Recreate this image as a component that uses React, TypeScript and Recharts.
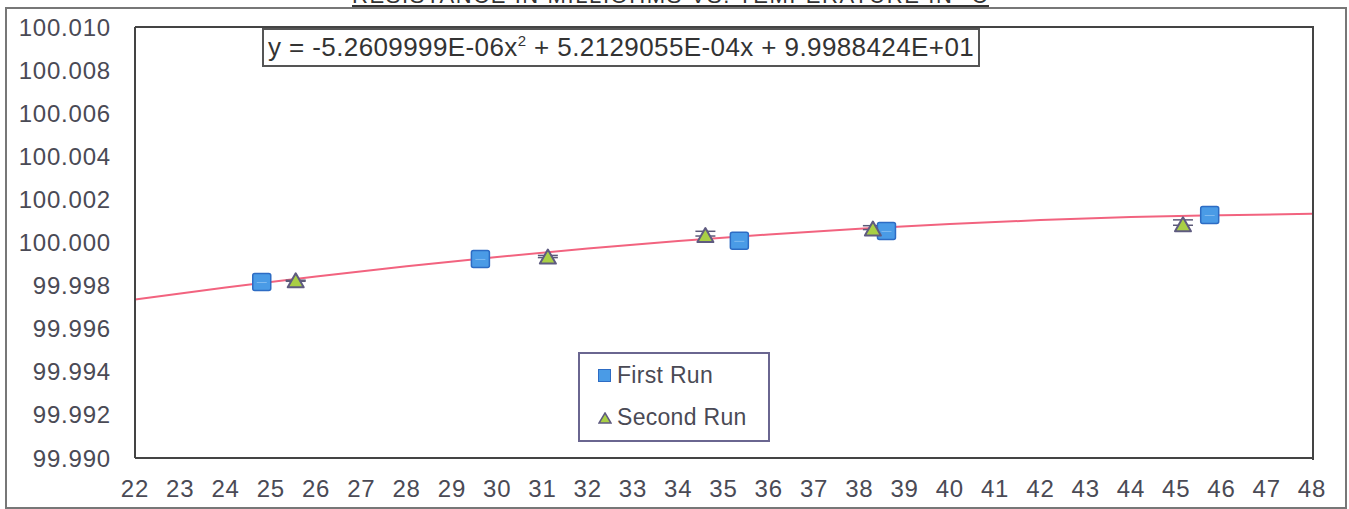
import React from 'react';
import { ComposedChart, Line, Scatter, XAxis, YAxis, ErrorBar } from 'recharts';

// readings taken off the plot (temperature °C, resistance mΩ)
const firstRunT = [24.8, 29.63, 35.35, 38.6, 45.74];
const firstRunR = [99.99819, 99.99926, 100.0001, 100.00056, 100.0013];
const secondRunT = [25.55, 31.12, 34.6, 38.3, 45.15];
const secondRunR = [99.9982, 99.9993, 100.0003, 100.0006, 100.0008];
const secondRunErr = [0.00005, 0.0001, 0.00022, 0.00018, 0.00025];

// polynomial trend line as drawn
const trendT = [22, 24, 26, 28, 30, 32, 34, 36, 38, 40, 42, 44, 46, 48];
const trendR = [
  99.99735, 99.99791, 99.99842, 99.9989, 99.99933, 99.99972, 100.00007,
  100.00037, 100.00064, 100.00086, 100.00104, 100.00118, 100.00127, 100.00133,
];

const xTicks = Array.from({ length: 27 }, (_, i) => 22 + i);
const yTicks = [99.99, 99.992, 99.994, 99.996, 99.998, 100.0, 100.002, 100.004, 100.006, 100.008, 100.01];

const equation = 'y = -5.2609999E-06x';
const equationRest = ' + 5.2129055E-04x + 9.9988424E+01';

const FONT = '"Liberation Sans", Arial, sans-serif';
const BLUE = '#4a9be6';
const BLUE_EDGE = '#2d6cc4';
const GREEN = '#a9cf45';
const GREEN_EDGE = '#5f5b80';
const TREND = '#f2637f';
const TEXT = '#4a4a55';

const firstRun = firstRunT.map((t, i) => ({ t, r: firstRunR[i] }));
const secondRun = secondRunT.map((t, i) => ({ t, r: secondRunR[i], err: [0, secondRunErr[i]] }));
const trend = trendT.map((t, i) => ({ t, trend: trendR[i] }));

const Square = (p: any) => {
  const { cx, cy } = p;
  if (cx == null || cy == null) return null;
  return (
    <g>
      <rect x={cx - 9} y={cy - 8} width={18} height={17} rx={2} fill={BLUE} stroke={BLUE_EDGE} strokeWidth={1.5} />
      <line x1={cx - 5} x2={cx + 5} y1={cy + 1} y2={cy + 1} stroke="#7fbaf0" strokeWidth={1} />
    </g>
  );
};

const Triangle = (p: any) => {
  const { cx, cy } = p;
  if (cx == null || cy == null) return null;
  return (
    <path
      d={`M${cx},${cy - 8} L${cx + 8},${cy + 6} L${cx - 8},${cy + 6} Z`}
      fill={GREEN}
      stroke={GREEN_EDGE}
      strokeWidth={2}
      strokeLinejoin="round"
    />
  );
};

const tickStyle = { fontSize: 24, fill: TEXT, fontFamily: FONT, letterSpacing: 0.8 };

export default function App() {
  return (
    <div style={{ position: 'absolute', left: 0, top: 0, width: 1349, height: 509, background: '#fff', overflow: 'hidden', fontFamily: FONT }}>
      <div
        style={{
          position: 'absolute', left: 352, top: -17, fontSize: 22, color: '#333',
          textDecoration: 'underline', letterSpacing: 1.6, whiteSpace: 'nowrap',
        }}
      >
        RESISTANCE IN MILLIOHMS VS. TEMPERATURE IN °C
      </div>
      <div style={{ position: 'absolute', left: 5, top: 7, width: 1338, height: 498, border: '2px solid #777' }} />
      <ComposedChart
        width={1349}
        height={509}
        data={trend}
        margin={{ top: 27, right: 37, left: 10, bottom: 11 }}
        style={{ position: 'absolute', left: 0, top: 0 }}
      >
        <XAxis
          dataKey="t"
          type="number"
          domain={[22, 48]}
          ticks={xTicks}
          interval={0}
          tickLine={false}
          axisLine={{ stroke: '#444', strokeWidth: 2 }}
          tickSize={0}
          tickMargin={22}
          height={40}
          tick={tickStyle}
        />
        <YAxis
          type="number"
          domain={[99.99, 100.01]}
          ticks={yTicks}
          interval={0}
          tickFormatter={(v: number) => v.toFixed(3)}
          tickLine={false}
          axisLine={{ stroke: '#444', strokeWidth: 2 }}
          tickSize={0}
          tickMargin={24}
          width={125}
          tick={tickStyle}
        />
        <Line dataKey="trend" type="monotone" stroke={TREND} strokeWidth={2} dot={false} isAnimationActive={false} />
        <Scatter data={firstRun} dataKey="r" shape={Square} isAnimationActive={false} />
        <Scatter data={secondRun} dataKey="r" shape={Triangle} isAnimationActive={false}>
          <ErrorBar dataKey="err" direction="y" width={10} stroke="#5c5a78" strokeWidth={1.5} />
        </Scatter>
      </ComposedChart>
      {/* plot frame top/right */}
      <div style={{ position: 'absolute', left: 135, top: 26, width: 1177, height: 432, borderTop: '2px solid #444', borderRight: '2px solid #444', pointerEvents: 'none' }} />
      <div
        style={{
          position: 'absolute', left: 262, top: 28, height: 35, padding: '0 4px', border: '2px solid #555',
          background: '#fff', fontSize: 26, color: '#333', lineHeight: '35px', whiteSpace: 'nowrap', letterSpacing: 0.4,
        }}
      >
        {equation}
        <sup style={{ fontSize: 15, lineHeight: 0 }}>2</sup>
        {equationRest}
      </div>
      <div
        style={{
          position: 'absolute', left: 578, top: 352, width: 188, height: 86, border: '2px solid #6a6690',
          background: '#fff', fontSize: 23, color: TEXT, letterSpacing: 0.3,
        }}
      >
        <div style={{ position: 'absolute', left: 18, top: 8, display: 'flex', alignItems: 'center' }}>
          <span style={{ display: 'inline-block', width: 11, height: 11, background: BLUE, border: `1.5px solid ${BLUE_EDGE}`, marginRight: 6 }} />
          First Run
        </div>
        <div style={{ position: 'absolute', left: 18, top: 50, display: 'flex', alignItems: 'center' }}>
          <svg width={14} height={12} style={{ marginRight: 5 }}>
            <path d="M7,1 L13,11 L1,11 Z" fill={GREEN} stroke={GREEN_EDGE} strokeWidth={1.5} />
          </svg>
          Second Run
        </div>
      </div>
    </div>
  );
}
